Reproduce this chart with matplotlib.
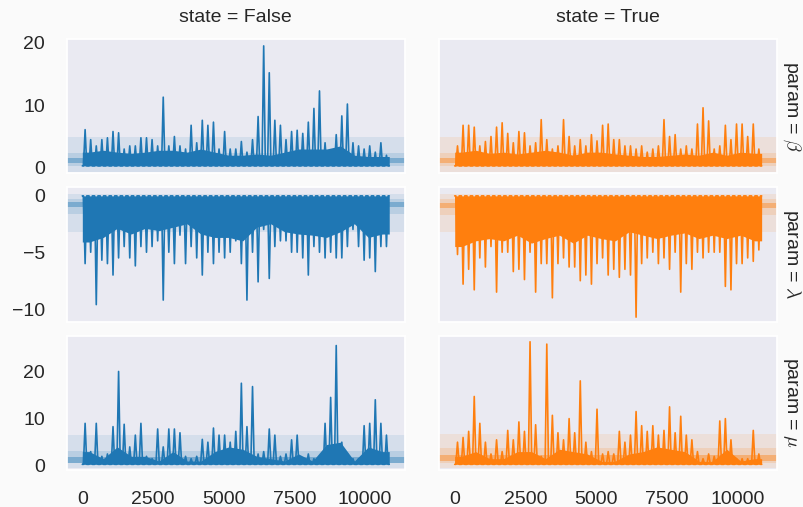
import numpy as np
import matplotlib
matplotlib.use("Agg")
import matplotlib.pyplot as plt
import seaborn as sns

# trace summaries
n_iter = 10860
states = ["False", "True"]
params = [r"$\beta$", r"$\lambda$", r"$\mu$"]

# extreme value in each block of ~200 draws
beta_false = [6.1, 4.5, 3.5, 4.5, 4.8, 5.8, 5.6, 3.0, 3.5, 3.5, 4.8, 4.8, 4.5, 3.5,
              11.3, 3.5, 5.0, 3.5, 3.0, 6.8, 4.0, 7.6, 6.8, 7.3, 3.0, 5.8, 3.0, 3.0,
              4.2, 2.5, 4.5, 8.2, 19.5, 15.2, 7.6, 6.8, 4.5, 5.8, 6.0, 5.5, 7.3, 9.5,
              12.3, 4.0, 2.5, 5.3, 8.3, 10.2, 4.0, 3.5, 3.0, 3.5, 2.5, 4.0, 2.0]
beta_true = [3.5, 6.8, 6.8, 6.5, 3.5, 4.2, 5.0, 6.5, 7.2, 5.5, 4.0, 5.8, 5.6, 3.5,
             4.0, 7.7, 4.5, 3.0, 3.5, 7.7, 5.0, 3.5, 4.5, 3.5, 5.3, 4.3, 6.8, 7.0,
             4.5, 4.5, 3.5, 3.5, 3.0, 3.5, 2.5, 3.0, 3.5, 7.7, 5.0, 5.3, 3.0, 3.5,
             3.0, 7.0, 9.6, 7.5, 3.0, 3.5, 6.8, 4.5, 7.0, 7.0, 5.0, 7.0, 3.0]
lam_false = [-6.0, -5.0, -9.6, -5.7, -6.0, -7.0, -5.5, -4.5, -5.5, -6.2, -4.5, -5.0,
             -4.5, -4.0, -9.2, -5.0, -6.0, -3.5, -6.0, -4.5, -5.5, -7.0, -5.0, -6.0,
             -5.0, -5.5, -5.0, -4.0, -6.0, -9.2, -5.0, -7.6, -3.0, -7.3, -4.5, -4.0,
             -4.0, -5.0, -5.0, -5.5, -7.0, -4.5, -5.0, -5.5, -5.0, -5.5, -5.5, -4.5,
             -3.0, -4.5, -5.7, -5.5, -6.7, -4.5, -4.5]
lam_true = [-5.2, -7.8, -6.5, -8.3, -5.5, -6.3, -4.5, -8.5, -5.0, -5.0, -6.7, -6.5,
            -7.4, -5.0, -8.5, -6.0, -6.0, -9.0, -6.0, -5.5, -6.3, -6.3, -7.5, -7.0,
            -7.8, -6.0, -5.5, -7.0, -6.5, -7.2, -6.5, -7.0, -10.7, -6.0, -5.5, -5.0,
            -6.0, -5.5, -6.5, -5.0, -8.5, -6.0, -6.5, -5.0, -5.5, -5.0, -5.0, -5.0,
            -8.0, -8.3, -6.0, -6.0, -5.5, -5.8, -4.8]
mu_false = [9.0, 3.0, 9.0, 2.0, 2.5, 8.3, 20.0, 8.8, 4.0, 6.5, 9.0, 2.0, 1.5, 7.8,
            4.0, 7.8, 7.8, 7.0, 2.0, 1.5, 2.0, 5.6, 5.0, 8.0, 6.5, 6.5, 5.0, 7.3,
            17.5, 8.3, 16.8, 2.5, 3.0, 7.8, 6.5, 2.0, 2.5, 5.5, 6.5, 1.0, 2.5, 1.5,
            2.0, 9.0, 14.5, 25.5, 5.0, 2.5, 1.5, 1.5, 8.5, 9.0, 14.0, 9.0, 6.5]
mu_true = [5.0, 6.0, 7.3, 14.7, 9.0, 5.0, 2.5, 5.5, 3.0, 7.5, 5.5, 9.3, 7.3, 26.3,
           8.7, 2.0, 25.8, 10.7, 7.0, 5.5, 10.0, 7.0, 18.0, 5.0, 3.0, 12.0, 2.5, 3.0,
           2.5, 7.3, 5.0, 6.5, 11.5, 8.5, 7.3, 8.5, 6.5, 7.5, 12.5, 7.0, 10.5, 6.5,
           5.5, 3.0, 1.5, 2.5, 2.0, 9.5, 10.0, 5.5, 1.5, 1.5, 1.5, 7.5, 2.5]

# edge of the dense body of each trace, per block of ~500 draws
beta_false_core = [2.5, 2.8, 2.5, 2.3, 2.5, 2.8, 2.8, 2.5, 3.0, 2.5, 2.0, 2.0, 2.2,
                   2.0, 2.5, 3.0, 3.0, 3.0, 3.5, 2.0, 1.8, 1.8]
beta_true_core = [2.5, 2.8, 2.3, 2.5, 2.2, 2.5, 2.8, 2.5, 2.0, 2.5, 2.5, 2.2, 2.0,
                  1.8, 1.8, 2.0, 2.2, 2.0, 2.5, 2.0, 2.5, 2.3]
lam_false_core = [-4.1, -3.7, -2.9, -3.4, -2.9, -3.1, -2.8, -2.5, -3.4, -3.7, -3.7,
                  -4.0, -2.8, -2.5, -3.2, -3.4, -3.5, -3.7, -3.2, -2.5, -3.7, -3.4]
lam_true_core = [-4.5, -4.0, -3.8, -4.0, -3.5, -4.2, -3.8, -3.5, -4.2, -3.5, -3.8,
                 -4.0, -3.2, -3.5, -3.8, -3.5, -3.3, -3.8, -3.5, -3.8, -3.5, -4.0]
mu_false_core = [3.0, 1.5, 4.0, 2.0, 2.0, 1.0, 3.0, 1.0, 1.0, 3.0, 4.0, 3.5, 2.0,
                 1.5, 1.0, 2.5, 1.0, 4.5, 5.0, 1.0, 4.0, 3.0]
mu_true_core = [2.0, 3.0, 1.5, 1.5, 3.0, 3.0, 1.5, 3.5, 3.0, 2.5, 1.0, 1.0, 2.5,
                3.0, 4.0, 3.5, 3.0, 1.0, 1.0, 3.5, 1.0, 1.5]

# level the chain keeps returning to (floor for beta/mu, ceiling for lambda)
base = [0.3, -0.05, 0.3]

# interval bands: outer, inner, median strip
bands_false = [[(-0.65, 4.9), (0.26, 2.4), (0.8, 1.5)],
               [(-3.2, 0.15), (-1.6, -0.3), (-1.04, -0.6)],
               [(-0.5, 6.5), (0.5, 3.1), (0.6, 1.8)]]
bands_true = [[(-0.65, 4.9), (0.26, 2.4), (0.8, 1.6)],
              [(-3.25, 0.15), (-1.77, -0.3), (-1.1, -0.65)],
              [(-0.5, 6.7), (0.6, 3.7), (1.1, 2.3)]]

traces = [[beta_false, beta_true], [lam_false, lam_true], [mu_false, mu_true]]
cores = [[beta_false_core, beta_true_core], [lam_false_core, lam_true_core],
         [mu_false_core, mu_true_core]]
bands = [bands_false, bands_true]
yticks = [[0, 10, 20], [0, -5, -10], [0, 10, 20]]
ylims = [(-0.9, 20.6), (-11.1, 0.7), (-0.9, 27.6)]
colors = ["#1f77b4", "#ff7f0e"]

sns.set_theme(style="dark")
plt.rcParams["font.family"] = ["Liberation Sans", "DejaVu Sans"]
plt.rcParams["mathtext.fontset"] = "cm"
plt.rcParams["figure.facecolor"] = "#fafafa"

fig, axes = plt.subplots(3, 2, figsize=(8.04, 5.07), dpi=100, sharex=True, sharey="row")
fig.subplots_adjust(left=0.0833, right=0.9664, bottom=0.073, top=0.923,
                    wspace=0.103, hspace=0.104)

for i in range(3):
    for j in range(2):
        ax = axes[i, j]
        col = colors[j]

        # dense body of the chain, running from the first draw to the last
        core = cores[i][j]
        wc = n_iter / len(core)
        xc = np.concatenate([[0], (np.arange(len(core)) + 0.5) * wc, [n_iter]])
        yc = np.concatenate([[core[0]], core, [core[-1]]])
        ax.fill_between(xc, base[i], yc, color=col, lw=0, zorder=2)

        # one narrow spike per block, up to the block's extreme
        vals = traces[i][j]
        nb = len(vals)
        w = n_iter / nb
        xs, ys = [0.0], [base[i]]
        for k, v in enumerate(vals):
            c = (k + 0.5) * w
            xs += [c - 0.3 * w, c, c + 0.3 * w]
            ys += [base[i], v, base[i]]
        xs.append(n_iter)
        ys.append(base[i])
        ax.plot(xs, ys, color=col, lw=1.2, zorder=2)

        (a0, a1), (b0, b1), (c0, c1) = bands[j][i]
        ax.axhspan(a0, a1, color=col, alpha=0.1, lw=0, zorder=1)
        ax.axhspan(b0, b1, color=col, alpha=0.15, lw=0, zorder=1)
        ax.axhspan(c0, c1, color=col, alpha=0.4, lw=0, zorder=1)

        ax.set_ylim(*ylims[i])
        ax.set_yticks(yticks[i])
        ax.set_xticks([0, 2500, 5000, 7500, 10000])
        ax.tick_params(axis="y", labelsize=14, colors="#262626", pad=10)
        ax.tick_params(axis="x", labelsize=14, colors="#262626", pad=9)
        if i == 0:
            ax.set_title("state = " + states[j], fontsize=14, color="#262626", pad=12)
        if j == 1:
            ax.text(1.012, 0.5, "param = " + params[i], transform=ax.transAxes,
                    rotation=270, va="center", ha="left", fontsize=14, color="#262626")

fig.savefig("out.png", dpi=100, facecolor=fig.get_facecolor())
